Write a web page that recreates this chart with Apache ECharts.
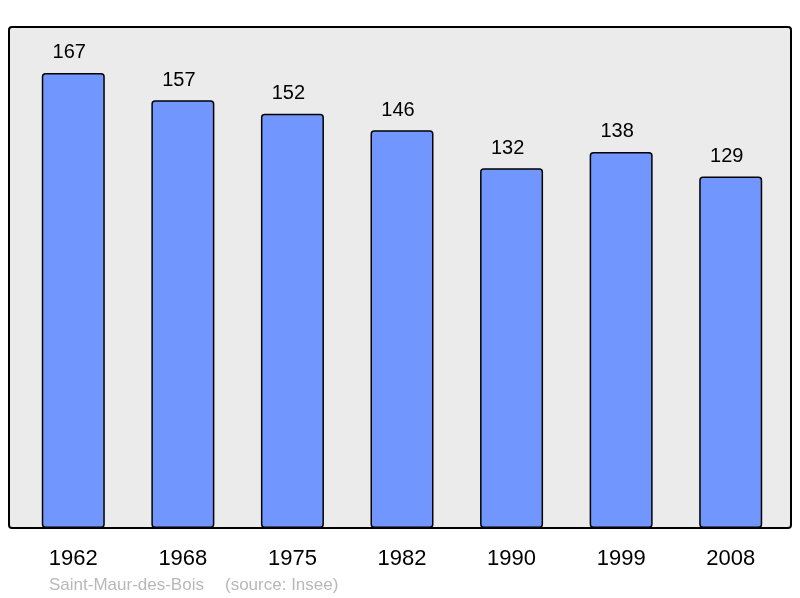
<!DOCTYPE html>
<html>
<head>
<meta charset="utf-8">
<style>
  html, body { margin: 0; padding: 0; background: #fff; }
  #main { width: 800px; height: 598px; }
</style>
<script src="https://cdn.jsdelivr.net/npm/echarts@6/dist/echarts.min.js"></script>
</head>
<body>
<div id="main"></div>
<script>
// données de population
const years = ["1962", "1968", "1975", "1982", "1990", "1999", "2008"];
const population = [167, 157, 152, 146, 132, 138, 129];
const commune = "Saint-Maur-des-Bois";
const source = "(source: Insee)";

const font = "Liberation Sans, Arial, sans-serif";
const chart = echarts.init(document.getElementById("main"));

chart.setOption({
	animation: false,
	textStyle: { fontFamily: font },
	graphic: [
		{
			type: "rect",
			z: -10,
			shape: { x: 9, y: 27, width: 782, height: 501, r: 3 },
			style: { fill: "#ebebeb", stroke: "#000", lineWidth: 2 }
		},
		{
			type: "text",
			left: 49,
			top: 577,
			style: { text: commune, fill: "#b8b8b8", fontSize: 17, fontFamily: font }
		},
		{
			type: "text",
			left: 225,
			top: 577,
			style: { text: source, fill: "#b8b8b8", fontSize: 17, fontFamily: font }
		}
	],
	grid: { left: 18.5, right: 14.5, top: 26.6, bottom: 70 },
	xAxis: {
		type: "category",
		data: years,
		axisLine: { show: false },
		axisTick: { show: false },
		axisLabel: { color: "#000", fontSize: 22, margin: 20 }
	},
	yAxis: {
		type: "value",
		min: 0,
		max: 184,
		show: false,
		splitLine: { show: false }
	},
	series: [
		{
			type: "bar",
			data: population,
			barWidth: "57.5%",
			itemStyle: { color: "#7197ff", borderColor: "#000", borderWidth: 1.5, borderRadius: 3 },
			label: { show: true, position: "top", distance: 10, offset: [-4, 0], color: "#000", fontSize: 20 }
		}
	]
});
</script>
</body>
</html>
